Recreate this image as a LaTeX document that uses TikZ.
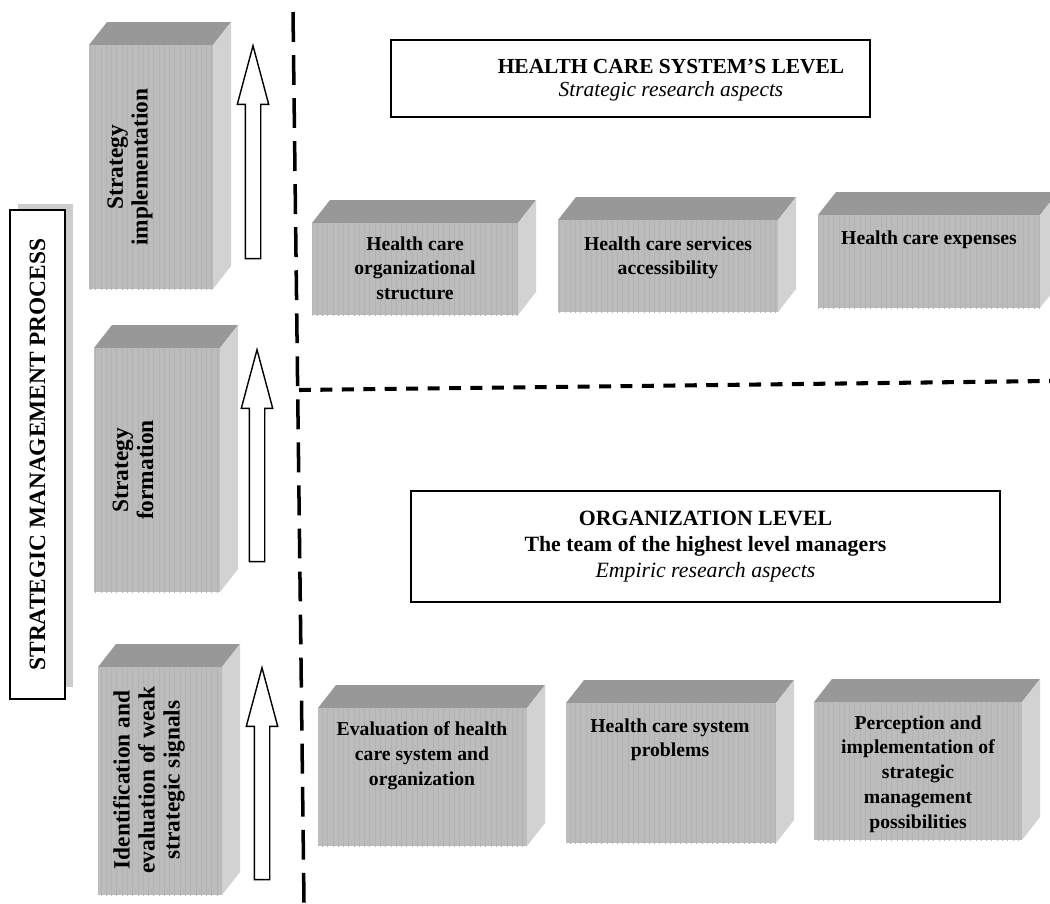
\documentclass[tikz,border=0pt]{standalone}
\usepackage{fontspec}
\setmainfont{Liberation Serif}
\usepackage{tikz}
\usetikzlibrary{shapes.arrows, patterns}

\definecolor{facegray}{RGB}{188,188,188}
\definecolor{topgray}{RGB}{152,152,152}
\definecolor{sidegray}{RGB}{210,210,210}
\definecolor{shadowgray}{RGB}{205,205,205}
\definecolor{stripegray}{RGB}{179,179,179}

\begin{document}
\begin{tikzpicture}[x=0.02cm, y=-0.02cm]
    \tikzset{
        block_face/.style={fill=facegray, postaction={pattern=vertical lines, pattern color=stripegray}},
        top_face/.style={fill=topgray},
        side_face/.style={fill=sidegray},
        block_text/.style={font=\bfseries\fontsize{11.2}{14.2}\selectfont, align=center, anchor=north, inner sep=0pt},
        stage_text/.style={font=\bfseries\fontsize{13.3}{14.2}\selectfont, align=center, rotate=90, inner sep=0pt},
        level_box/.style={draw, line width=0.8pt, shape=rectangle, fill=white},
        up_arrow/.style={draw, line width=0.8pt, fill=white, shape=single arrow, rotate=90, anchor=tip,
            inner xsep=0pt, inner ysep=0.14cm, single arrow head extend=0.16cm, single arrow tip angle=30},
        split_v/.style={line width=2pt, dash pattern=on 17pt off 7.5pt},
        split_h/.style={line width=2.3pt, dash pattern=on 6.8pt off 5.4pt}
    }
    \useasboundingbox (0,0) rectangle (1050,903);
    \clip (0,0) rectangle (1050,903);

    \foreach \xa/\ya/\xb/\yb in {89/45/213/289, 94/348/220/592, 98/667/222/895,
            312/223/518/315, 558/220/778/312, 818/215/1040/308,
            318/708/527/846, 566/703/776/843, 814/702/1022/840}{
        \fill[top_face] (\xa,\ya) -- (\xa+18,\ya-23) -- (\xb+18,\ya-23) -- (\xb,\ya) -- cycle;
        \fill[side_face] (\xb,\ya) -- (\xb+18,\ya-23) -- (\xb+18,\yb-23) -- (\xb,\yb) -- cycle;
        \fill[block_face] (\xa,\ya) rectangle (\xb,\yb);
    }

    \fill[shadowgray] (18,204) rectangle (73,687);
    \node[level_box, rotate=90, minimum width=9.78cm, minimum height=1.1cm,
        font=\bfseries\fontsize{13.3}{15}\selectfont] (smp) at (37.5,454.5) {STRATEGIC MANAGEMENT PROCESS};

    \node[stage_text] (impl) at (130,167) {Strategy\\implementation};
    \node[stage_text] (form) at (133,470) {Strategy\\formation};
    \node[stage_text] (signals) at (149,780) {Identification and\\evaluation of weak\\strategic signals};

    \node[up_arrow, minimum height=4.26cm] (arr_a) at (253,43) {};
    \node[up_arrow, minimum height=4.24cm] (arr_b) at (257,347) {};
    \node[up_arrow, minimum height=4.24cm] (arr_c) at (262,665) {};

    \coordinate (v_top) at (293,12);
    \coordinate (v_bot) at (304,903);
    \coordinate (h_left) at (299,390);
    \coordinate (h_right) at (1050,381);
    \draw[split_v] (v_top) -- (v_bot);
    \draw[split_h] (h_left) -- (h_right);

    \node[level_box, minimum width=9.58cm, minimum height=1.54cm] (sys) at (630.5,78.5) {};
    \node[align=center, inner sep=0pt, font=\fontsize{12.2}{13}\selectfont] (sys_text) at (671,80)
        {\textbf{HEALTH CARE SYSTEM'S LEVEL}\\\textit{Strategic research aspects}};

    \node[block_text] (structure) at (415,236) {Health care\\organizational\\structure};
    \node[block_text] (access) at (668,236) {Health care services\\accessibility};
    \node[block_text] (expenses) at (929,230) {Health care expenses};

    \node[level_box, minimum width=11.78cm, minimum height=2.22cm, align=center,
        font=\fontsize{12.4}{14.7}\selectfont] (org) at (705.5,546.5)
        {\textbf{ORGANIZATION LEVEL}\\\textbf{The team of the highest level managers}\\\textit{Empiric research aspects}};

    \node[block_text] (evaluation) at (422,721) {Evaluation of health\\care system and\\organization};
    \node[block_text] (problems) at (670,718) {Health care system\\problems};
    \node[block_text] (perception) at (918,715) {Perception and\\implementation of\\strategic\\management\\possibilities};
\end{tikzpicture}
\end{document}
